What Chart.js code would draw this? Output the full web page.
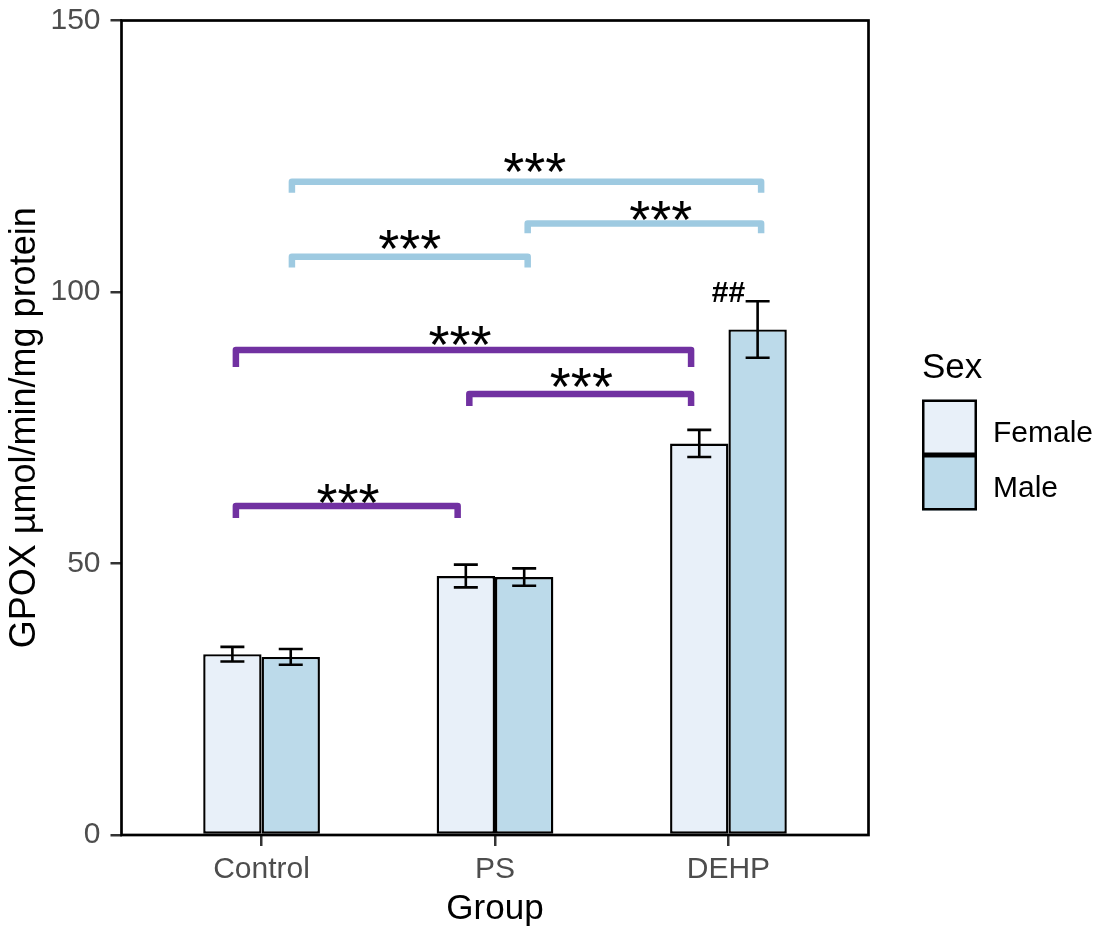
<!DOCTYPE html>
<html>
<head>
<meta charset="utf-8">
<script src="https://cdn.jsdelivr.net/npm/chart.js@4/dist/chart.umd.min.js"></script>
<style>
  html, body { margin: 0; padding: 0; background: #ffffff; }
  canvas { display: block; }
</style>
</head>
<body>
<canvas id="chart" width="1106" height="928"></canvas>
<script>
// ---- data ----
const groups = ['Control', 'PS', 'DEHP'];
const sexes = ['Female', 'Male'];
const femaleMean = [33.3, 47.7, 72.1];
const femaleErr = [1.35, 2.1, 2.5];
const maleMean = [32.8, 47.5, 93.1];
const maleErr = [1.45, 1.6, 5.2];
const yTicks = [0, 50, 100, 150];

// pairwise comparisons shown as brackets (x in group-index units, y in GPOX units)
const sigSex = ['Male', 'Male', 'Male', 'Female', 'Female', 'Female'];
const sigFrom = [0.13, 1.14, 0.13, -0.11, 0.89, -0.11];
const sigTo = [2.14, 2.14, 1.14, 1.84, 1.84, 0.84];
const sigLevel = [120.3, 112.6, 106.5, 89.3, 81.2, 60.6];
const sigTip = [2.0, 1.8, 2.0, 3.1, 2.2, 2.2];
const sigText = ['***', '***', '***', '***', '***', '***'];
const sigTextX = [1.17, 1.71, 0.635, 0.85, 1.37, 0.37];
const sigTextY = [124.4, 115.5, 110.2, 92.6, 84.7, 63.4];

// DEHP male vs DEHP female
const hashText = '##';
const hashGroup = 2;
const hashY = 99.7;

// ---- styling ----
const FONT = "'Liberation Sans', Arial, Helvetica, sans-serif";
const sexFill = { Female: '#E8F0F9', Male: '#BCDAEA' };
const sexBracket = { Female: '#7131A1', Male: '#9ECAE1' };

const toPoints = (vals) => vals.map((v, i) => ({ x: i, y: v }));

// error bars, brackets, star labels
const annotations = {
  id: 'annotations',
  afterDatasetsDraw(chart) {
    const { ctx, scales: { x, y } } = chart;
    ctx.save();

    // mean ± error
    ctx.strokeStyle = '#000000';
    ctx.lineWidth = 2.6;
    ctx.lineCap = 'butt';
    chart.data.datasets.forEach((ds, di) => {
      const meta = chart.getDatasetMeta(di);
      meta.data.forEach((bar, i) => {
        const m = ds.data[i].y, e = ds.errors[i];
        const cx = bar.x;
        const hi = y.getPixelForValue(m + e);
        const lo = y.getPixelForValue(m - e);
        const half = 12;
        ctx.beginPath();
        ctx.moveTo(cx, hi); ctx.lineTo(cx, lo);
        ctx.moveTo(cx - half, hi); ctx.lineTo(cx + half, hi);
        ctx.moveTo(cx - half, lo); ctx.lineTo(cx + half, lo);
        ctx.stroke();
      });
    });

    // brackets
    ctx.lineWidth = 6.5;
    ctx.lineJoin = 'round';
    ctx.lineCap = 'butt';
    for (let k = 0; k < sigFrom.length; k++) {
      const x1 = x.getPixelForValue(sigFrom[k]);
      const x2 = x.getPixelForValue(sigTo[k]);
      const yl = y.getPixelForValue(sigLevel[k]);
      const yt = y.getPixelForValue(sigLevel[k] - sigTip[k]);
      ctx.strokeStyle = sexBracket[sigSex[k]];
      ctx.beginPath();
      ctx.moveTo(x1, yt);
      ctx.lineTo(x1, yl);
      ctx.lineTo(x2, yl);
      ctx.lineTo(x2, yt);
      ctx.stroke();
    }

    // star labels
    const starSize = 54;
    ctx.fillStyle = '#000000';
    ctx.font = `${starSize}px ${FONT}`;
    ctx.textAlign = 'center';
    ctx.textBaseline = 'alphabetic';
    for (let k = 0; k < sigText.length; k++) {
      const px = x.getPixelForValue(sigTextX[k]);
      const py = y.getPixelForValue(sigTextY[k]) + 0.563 * starSize;
      ctx.fillText(sigText[k], px, py);
    }

    // ## marker
    ctx.font = `bold 30px ${FONT}`;
    ctx.textBaseline = 'middle';
    ctx.fillText(hashText, x.getPixelForValue(hashGroup), y.getPixelForValue(hashY));

    ctx.restore();
  },
  afterDraw(chart) {
    const { ctx, chartArea: a } = chart;
    ctx.save();
    // panel border
    ctx.strokeStyle = '#000000';
    ctx.lineWidth = 2.7;
    ctx.strokeRect(a.left, a.top, a.right - a.left, a.bottom - a.top);

    // legend
    const lx = a.right + 53.5;
    const keyTop = 399.5;
    const keyW = 55, keyH = 55.5;
    ctx.fillStyle = '#000000';
    ctx.font = `35px ${FONT}`;
    ctx.textAlign = 'left';
    ctx.textBaseline = 'alphabetic';
    ctx.fillText('Sex', lx, 378);
    chart.data.datasets.forEach((ds, i) => {
      const ky = keyTop + i * keyH;
      ctx.fillStyle = ds.backgroundColor;
      ctx.fillRect(lx, ky, keyW, keyH);
      ctx.strokeStyle = '#000000';
      ctx.lineWidth = 2.5;
      ctx.strokeRect(lx + 1.25, ky + 1.25, keyW - 2.5, keyH - 2.5);
      ctx.fillStyle = '#000000';
      ctx.font = `30px ${FONT}`;
      ctx.fillText(ds.label, lx + 71, ky + 42);
    });
    ctx.restore();
  }
};

new Chart(document.getElementById('chart'), {
  type: 'bar',
  data: {
    datasets: [
      {
        label: sexes[0],
        data: toPoints(femaleMean),
        errors: femaleErr,
        backgroundColor: sexFill.Female,
        borderColor: '#000000',
        borderWidth: 2.4,
        borderSkipped: false,
        categoryPercentage: 0.5,
        barPercentage: 1.0
      },
      {
        label: sexes[1],
        data: toPoints(maleMean),
        errors: maleErr,
        backgroundColor: sexFill.Male,
        borderColor: '#000000',
        borderWidth: 2.4,
        borderSkipped: false,
        categoryPercentage: 0.5,
        barPercentage: 1.0
      }
    ]
  },
  options: {
    responsive: false,
    animation: false,
    events: [],
    layout: { padding: { top: 20.5, right: 237.5, bottom: 0, left: 0 } },
    plugins: {
      legend: { display: false },
      tooltip: { enabled: false }
    },
    scales: {
      x: {
        type: 'linear',
        min: -0.6,
        max: 2.6,
        offset: false,
        afterBuildTicks(scale) { scale.ticks = groups.map((g, i) => ({ value: i })); },
        afterFit(scale) {
          scale.height = 93;
          scale.paddingLeft = 0; scale.paddingRight = 0;
          scale.paddingTop = 0; scale.paddingBottom = 0;
        },
        border: { display: false },
        grid: {
          offset: false,
          drawOnChartArea: false,
          drawTicks: true,
          tickLength: 11,
          lineWidth: 2.5,
          color: '#333333'
        },
        ticks: {
          autoSkip: false,
          maxRotation: 0,
          padding: 6,
          color: '#4D4D4D',
          font: { family: FONT, size: 30 },
          callback: (v) => groups[v] ?? ''
        },
        title: {
          display: true,
          text: 'Group',
          color: '#000000',
          font: { family: FONT, size: 35, lineHeight: 1 },
          padding: { top: 0, bottom: 1 }
        }
      },
      y: {
        type: 'linear',
        min: 0,
        max: 150,
        afterBuildTicks(scale) { scale.ticks = yTicks.map(v => ({ value: v })); },
        afterFit(scale) {
          scale.width = 121.5;
          scale.paddingLeft = 0; scale.paddingRight = 0;
          scale.paddingTop = 0; scale.paddingBottom = 0;
        },
        border: { display: false },
        grid: {
          drawOnChartArea: false,
          drawTicks: true,
          tickLength: 11,
          lineWidth: 2.5,
          color: '#333333'
        },
        ticks: {
          padding: 10,
          color: '#4D4D4D',
          font: { family: FONT, size: 30 }
        },
        title: {
          display: true,
          text: 'GPOX µmol/min/mg protein',
          color: '#000000',
          font: { family: FONT, size: 36, lineHeight: 1.2 },
          padding: { top: 3.5, bottom: 0 }
        }
      }
    }
  },
  plugins: [annotations]
});
</script>
</body>
</html>
